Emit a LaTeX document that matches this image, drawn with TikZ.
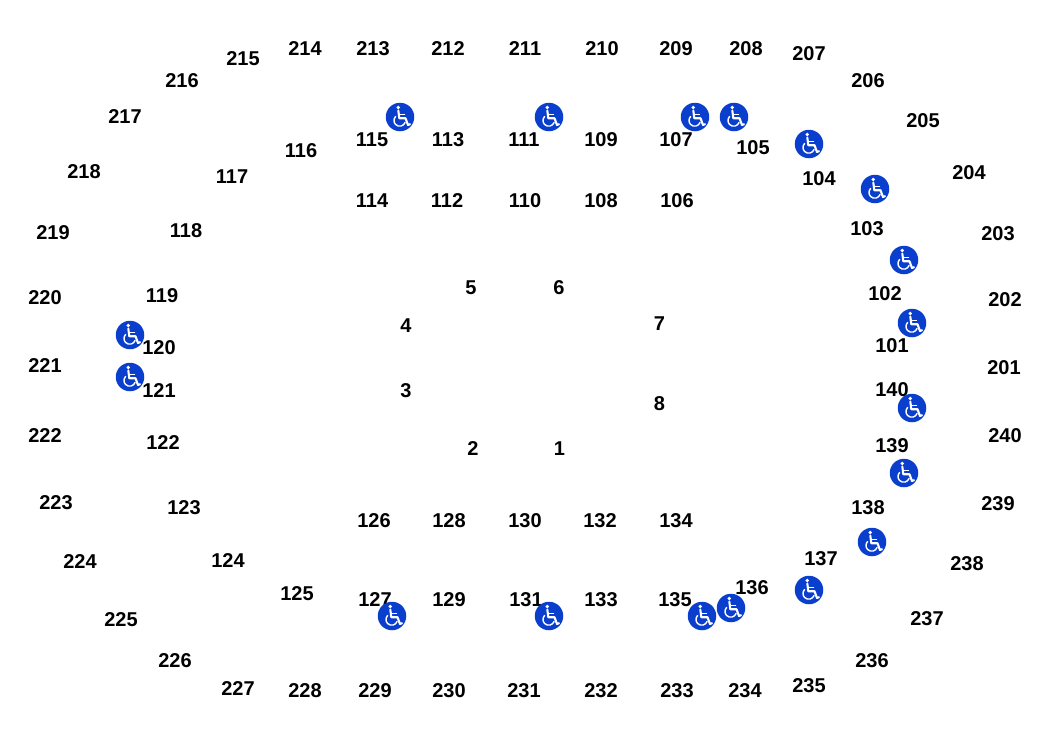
\documentclass[tikz,border=0pt]{standalone}
\usepackage{fontspec}
\setmainfont{Liberation Sans}
\definecolor{accessblue}{RGB}{10,62,204}
\tikzset{
  seat/.style={font=\fontsize{20}{20}\selectfont\bfseries,text=black,inner sep=0pt,anchor=center,yshift=-0.8},
  accessdisc/.style={circle,fill=accessblue,minimum size=28.5,inner sep=0pt},
  chairline/.style={draw=white,line width=1.4,line cap=round,line join=round,fill=none}
}
\newcommand{\accessmark}[3]{%
  \node[accessdisc] (#1) at (#2,#3) {};
  \begin{scope}[shift={(#1.center)}]
    \fill[white] (-1.8,-9.5) circle (1.9);
    \draw[chairline,line width=2.1] (-1.7,-6.5) -- (-0.7,1.2) -- (5.5,1.2) -- (8,8) -- (10,7.2);
    \draw[chairline] (-1,-2.8) -- (4.5,-2.8);
    \draw[chairline] (-0.3,3.5) ++(225:5.7) arc[start angle=225,end angle=20,radius=5.7];
  \end{scope}}
\begin{document}
\begin{tikzpicture}[x=1pt,y=-1pt]
\useasboundingbox (0,0) rectangle (1050,740);
\foreach \n/\x/\y in {
215/243/58,214/305/48,213/373/48,212/448/48,211/525/48,210/602/48,209/676/48,208/746/48,207/809/53,
206/868/80,205/923/120,204/969/172,203/998/233,202/1005/299,201/1004/367,240/1005/435,239/998/503,238/967/563,237/927/618,236/872/660,235/809/685,234/745/690,233/677/690,232/601/690,231/524/690,230/449/690,229/375/690,228/305/690,227/238/688,226/175/660,225/121/619,224/80/561,223/56/502,222/45/435,221/45/365,220/45/297,219/53/232,218/84/171,217/125/116,216/182/80,
116/301/150,117/232/176,118/186/230,119/162/295,120/159/347,121/159/390,122/163/442,123/184/507,124/228/560,125/297/593,
115/372/139,113/448/139,111/524/139,109/601/139,107/676/139,105/753/147,104/819/178,103/867/228,102/885/293,101/892/345,140/892/389,139/892/445,138/868/507,137/821/558,136/752/587,135/675/599,133/601/599,131/526/599,129/449/599,127/375/599,
114/372/200,112/447/200,110/525/200,108/601/200,106/677/200,
126/374/520,128/449/520,130/525/520,132/600/520,134/676/520,
5/471/287,6/559/287,4/406/325,7/659.5/323,3/406/390,8/659.5/403,2/473/448,1/559.5/448}
{\node[seat] (s\n) at (\x,\y) {\n};}
\accessmark{a1}{400}{117}
\accessmark{a2}{549}{117}
\accessmark{a3}{695}{117}
\accessmark{a4}{734}{117}
\accessmark{a5}{809}{144}
\accessmark{a6}{875}{189}
\accessmark{a7}{904}{260}
\accessmark{a8}{912}{323}
\accessmark{a9}{912}{408}
\accessmark{a10}{904}{473}
\accessmark{a11}{872}{542}
\accessmark{a12}{809}{590}
\accessmark{a13}{731}{608}
\accessmark{a14}{702}{616}
\accessmark{a15}{549}{616}
\accessmark{a16}{392}{616}
\accessmark{a17}{130}{335}
\accessmark{a18}{130}{377}
\end{tikzpicture}
\end{document}
